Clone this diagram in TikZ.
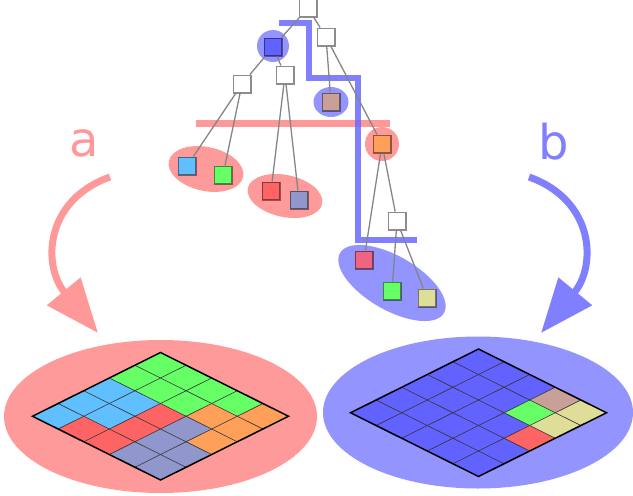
\documentclass[tikz,border=0pt]{standalone}
\usepackage{fontspec}
\usepackage{tikz}
\usetikzlibrary{arrows.meta}
\newfontfamily\lblfont{DejaVu Sans}
\definecolor{hlred}{HTML}{FF9A9A}
\definecolor{hlblue}{HTML}{9494FF}
\definecolor{arrred}{HTML}{FF9999}
\definecolor{arrblue}{HTML}{8080FF}
\definecolor{pathblue}{HTML}{6A6AFF}
\definecolor{gblue}{HTML}{6262FF}
\definecolor{ggreen}{HTML}{66FF66}
\definecolor{gcyan}{HTML}{60C0FF}
\definecolor{gred}{HTML}{FF6464}
\definecolor{gslate}{HTML}{9097CC}
\definecolor{gorange}{HTML}{FFA05A}
\definecolor{gbrown}{HTML}{C8A098}
\definecolor{gyellow}{HTML}{DEDE99}
\definecolor{gpink}{HTML}{F06482}

\begin{document}
\begin{tikzpicture}[x=1pt,y=-1pt,
  box/.style={draw=black,draw opacity=0.45,line width=1.5pt,minimum size=17.5pt,inner sep=0pt,fill=white},
  edge/.style={draw=black!48,line width=1.3pt},
  bigarrow/.style={line width=7pt,-{Triangle[length=54pt,width=42pt]}},
  lbl/.style={font=\lblfont\fontsize{48}{48}\selectfont,inner sep=0pt,anchor=base}]
\useasboundingbox (0,0) rectangle (633,496);

\fill[hlblue] (273,46) circle [radius=16pt];
\fill[hlblue] (331,102) ellipse [x radius=17.5pt,y radius=15pt];
\fill[hlred] (382,144) circle [radius=17pt];
\fill[hlred,rotate around={-12:(206,169)}] (206,169) ellipse [x radius=38pt,y radius=22pt];
\fill[hlred,rotate around={-12:(285,196)}] (285,196) ellipse [x radius=38pt,y radius=21pt];
\fill[hlblue,rotate around={-30:(392,283)}] (392,283) ellipse [x radius=60pt,y radius=27pt];

\draw[arrred,line width=7pt] (196,123) -- (390,123);
\draw[pathblue,opacity=0.85,line width=6pt,line join=miter]
  (279,23) -- (309,23) -- (309,78) -- (358,78) -- (358,240) -- (417,240);

\node[box] (root) at (308,8) {};
\node[box,fill=gblue] (tA) at (273,47) {};
\node[box] (tR) at (326,37) {};
\node[box] (tL) at (242,84) {};
\node[box] (tM) at (285,75) {};
\node[box,fill=gbrown] (tbrown) at (331,102) {};
\node[box,fill=gorange] (torange) at (382,144) {};
\node[box,fill=gcyan] (tcyan) at (187,166) {};
\node[box,fill=ggreen] (tgreen) at (223,175) {};
\node[box,fill=gred] (tred) at (271,191) {};
\node[box,fill=gslate] (tslate) at (299,200) {};
\node[box,fill=gpink] (tpink) at (364,260) {};
\node[box] (tW) at (397,221) {};
\node[box,fill=ggreen] (tgreenb) at (392,291) {};
\node[box,fill=gyellow] (tyellow) at (427,298) {};

\draw[edge] (root) -- (tA);
\draw[edge] (root) -- (tR);
\draw[edge] (tA) -- (tL);
\draw[edge] (tA) -- (tM);
\draw[edge] (tR) -- (tbrown);
\draw[edge] (tR) -- (torange);
\draw[edge] (tL) -- (tcyan);
\draw[edge] (tL) -- (tgreen);
\draw[edge] (tM) -- (tred);
\draw[edge] (tM) -- (tslate);
\draw[edge] (torange) -- (tpink);
\draw[edge] (torange) -- (tW);
\draw[edge] (tW) -- (tgreenb);
\draw[edge] (tW) -- (tyellow);

\node[lbl,text=arrred] (la) at (84,156) {a};
\node[lbl,text=arrblue] (lb) at (554,159) {b};
\coordinate (astart) at (110,177);
\coordinate (aend) at (98,333);
\coordinate (bstart) at (529,177);
\coordinate (bend) at (541,333);
\draw[bigarrow,arrred] (astart) .. controls (45,200) and (42,265) .. (aend);
\draw[bigarrow,arrblue] (bstart) .. controls (594,200) and (597,265) .. (bend);

\fill[hlred] (160.5,416.5) ellipse [x radius=156.5pt,y radius=76.5pt];
\fill[hlblue] (478,412.5) ellipse [x radius=155pt,y radius=76pt];

\begin{scope}[shift={(160.5,352.5)},x={(25.6pt,-12.75pt)},y={(-25.6pt,-12.75pt)}]
\foreach \i/\j/\c in {0/0/ggreen,1/0/ggreen,0/1/ggreen,2/0/ggreen,1/1/ggreen,3/0/ggreen,2/1/ggreen,
    0/2/gcyan,1/2/gcyan,0/3/gcyan,1/3/gcyan,0/4/gcyan,
    4/0/gorange,3/1/gorange,4/1/gorange,4/2/gorange,
    2/2/gred,2/3/gred,1/4/gred,2/4/gred,
    3/2/gslate,3/3/gslate,4/3/gslate,3/4/gslate,4/4/gslate} {
  \fill[\c] (\i,\j) -- ++(1,0) -- ++(0,1) -- ++(-1,0) -- cycle;
}
\foreach \k in {1,...,4} {
  \draw[black!80,line width=0.6pt] (\k,0) -- (\k,5);
  \draw[black!80,line width=0.6pt] (0,\k) -- (5,\k);
}
\draw[black,line width=1.5pt,line join=miter] (0,0) -- (5,0) -- (5,5) -- (0,5) -- cycle;
\end{scope}

\begin{scope}[shift={(478.5,349)},x={(25.6pt,-12.75pt)},y={(-25.6pt,-12.75pt)}]
\fill[gblue] (0,0) -- (5,0) -- (5,5) -- (0,5) -- cycle;
\foreach \i/\j/\c in {3/0/gbrown,4/0/gyellow,3/1/ggreen,4/1/gyellow,4/2/gred} {
  \fill[\c] (\i,\j) -- ++(1,0) -- ++(0,1) -- ++(-1,0) -- cycle;
}
\foreach \k in {1,...,4} {
  \draw[black!80,line width=0.6pt] (\k,0) -- (\k,5);
  \draw[black!80,line width=0.6pt] (0,\k) -- (5,\k);
}
\draw[black,line width=1.5pt,line join=miter] (0,0) -- (5,0) -- (5,5) -- (0,5) -- cycle;
\end{scope}
\end{tikzpicture}
\end{document}
